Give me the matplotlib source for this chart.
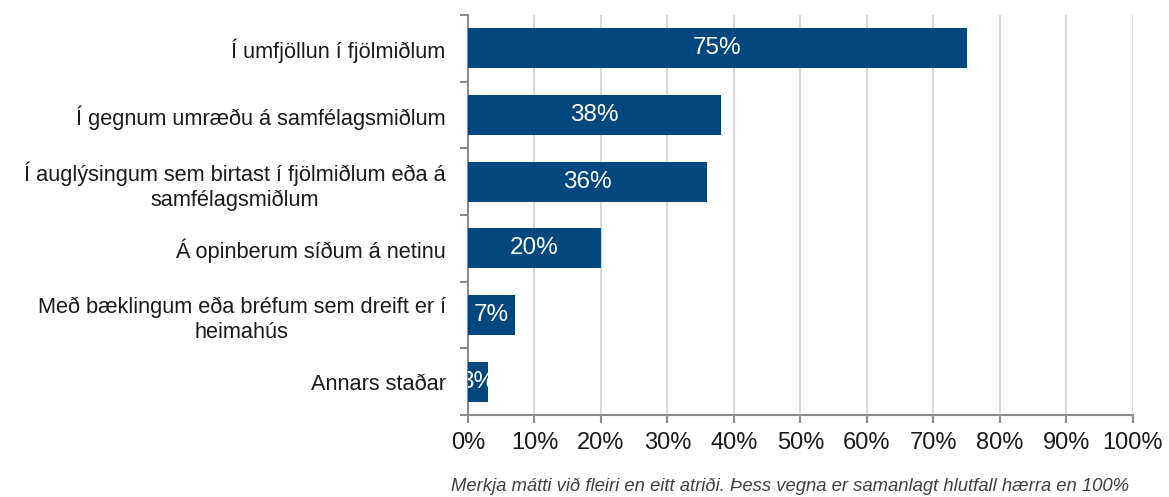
import matplotlib.pyplot as plt
from matplotlib.ticker import FixedLocator

plt.rcParams['font.family'] = ['Liberation Sans', 'DejaVu Sans']

categories = ['Í umfjöllun í fjölmiðlum',
              'Í gegnum umræðu á samfélagsmiðlum',
              'Í auglýsingum sem birtast í fjölmiðlum eða á\nsamfélagsmiðlum',
              'Á opinberum síðum á netinu',
              'Með bæklingum eða bréfum sem dreift er í\nheimahús',
              'Annars staðar']
values = [75, 38, 36, 20, 7, 3]
xticks = list(range(0, 101, 10))
note = 'Merkja mátti við fleiri en eitt atriði. Þess vegna er samanlagt hlutfall hærra en 100%'

bar_color = '#00467F'
axis_color = '#8C8C8C'

fig = plt.figure(figsize=(11.69, 4.97), dpi=100)
ax = fig.add_axes([0.4003, 0.165, 0.5689, 0.805])

pos = list(range(len(categories)))
bars = ax.barh(pos, values, height=0.6, color=bar_color, zorder=3)
for y, v in zip(pos, values):
    ax.text(v / 2, y, f'{v}%', ha='center', va='center', color='white',
            fontsize=17.5, clip_on=True, zorder=4)

ax.set_ylim(len(categories) - 0.5, -0.5)
ax.set_xlim(0, 100)
ax.set_xticks(xticks)
ax.set_xticklabels([f'{t}%' for t in xticks], fontsize=17, color='#1a1a1a')
ax.set_yticks(pos)
ax.set_yticklabels(categories, fontsize=15.7, color='#1a1a1a',
                   multialignment='center', linespacing=1.25)
ax.yaxis.set_minor_locator(FixedLocator([p - 0.5 for p in range(len(categories) + 1)]))

ax.tick_params(axis='y', which='major', length=0, pad=16)
ax.tick_params(axis='y', which='minor', length=6, width=1.5, color=axis_color)
ax.tick_params(axis='x', which='major', length=6, width=1.5, color=axis_color, pad=6)

for g in xticks[1:]:
    ax.axvline(g, color='#D9D9D9', linewidth=1.5, zorder=1)

for side in ['top', 'right']:
    ax.spines[side].set_visible(False)
for side in ['left', 'bottom']:
    ax.spines[side].set_color(axis_color)
    ax.spines[side].set_linewidth(1.5)

fig.text(0.676, 0.021, note, ha='center', va='center', fontsize=13.3,
         style='italic', color='#404040')

fig.savefig('out.png', dpi=100)
